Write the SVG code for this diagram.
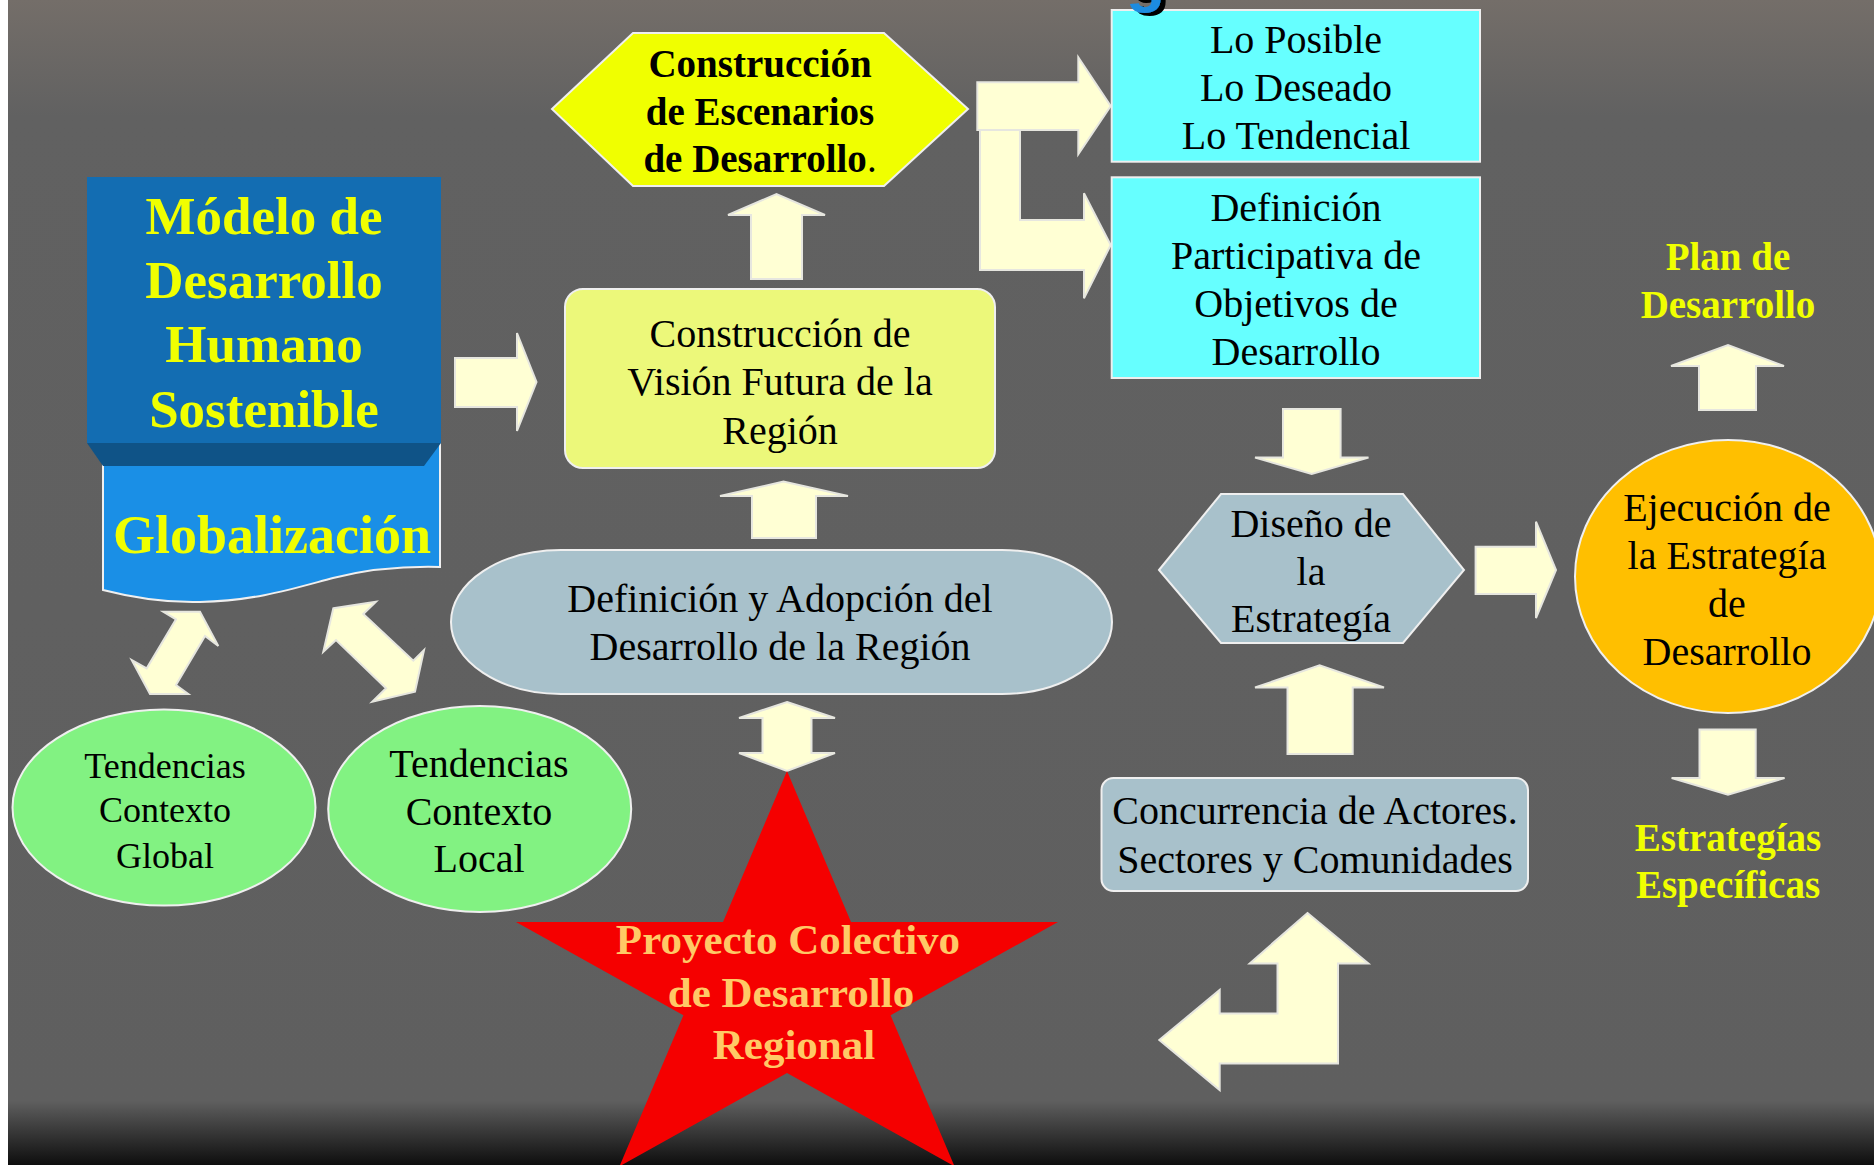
<svg xmlns="http://www.w3.org/2000/svg" width="1874" height="1165" viewBox="0 0 1874 1165">
<defs>
<linearGradient id="bg" x1="0" y1="0" x2="0" y2="1">
<stop offset="0" stop-color="#746e69"/>
<stop offset="0.1" stop-color="#616161"/>
<stop offset="0.945" stop-color="#5f5f5f"/>
<stop offset="1" stop-color="#0e0e0e"/>
</linearGradient>
<filter id="sh" x="-50%" y="-50%" width="200%" height="200%">
<feDropShadow dx="5" dy="3" stdDeviation="0" flood-color="#000" flood-opacity="1"/>
</filter>
<style>
.arr{fill:#ffffd4;stroke:#e6e6df;stroke-width:2;stroke-linejoin:miter}
.nd{stroke:#efefef;stroke-width:2}
.t{font-family:"Liberation Serif","Times New Roman",serif;font-size:40px;fill:#000;text-anchor:middle}
.b{font-weight:bold}
.y{fill:#f0ff00}
</style>
</defs>
<rect x="0" y="0" width="1874" height="1165" fill="#ffffff"/>
<rect x="8" y="0" width="1866" height="1165" fill="url(#bg)"/>

<g id="connectors">
<polygon class="arr" points="455,358 517,358 517,333 536.5,382 517,431 517,407 455,407"/>
<polygon class="arr" points="751,279 751,215 728,215 776.5,194 825,215 802,215 802,279"/>
<polygon class="arr" points="752,538 752,496 720,496 783.5,481.5 848,496 816,496 816,538"/>
<polygon class="arr" points="980,130 1020,130 1020,220 1084,220 1084,193.3 1110.7,245 1084,298.3 1084,270 980,270"/>
<polygon class="arr" points="977.3,82.3 1078.3,82.3 1078.3,57.3 1110.7,106 1078.3,154.3 1078.3,130 977.3,130"/>
<polygon class="arr" points="163.3,611.7 200,611.7 218.3,646 205,636 176,685 188.3,694 150,694 131.7,660 146.7,668.3 176,619.3"/>
<polygon class="arr" points="333.3,608.3 376,601.7 363.3,614 413.3,660.7 424,650 415,691.7 372.3,701.7 386,688.3 336,640 323.3,651.7"/>
<polygon class="arr" points="787,702 835,718 811.5,718 811.5,753 835,753 787,771 739,753 762.5,753 762.5,718 739,718"/>
<polygon class="arr" points="1283,409 1340.6,409 1340.6,457.6 1368.5,457.6 1311.7,474 1255,457.6 1283,457.6"/>
<polygon class="arr" points="1475.6,546.7 1536,546.7 1536,521.7 1556,570 1536,618 1536,594 1475.6,594"/>
<polygon class="arr" points="1287.5,754 1287.5,687.5 1255,687.5 1319.6,665.4 1384,687.5 1352.7,687.5 1352.7,754"/>
<polygon class="arr" points="1307.5,913 1368.4,963.4 1338,963.4 1338,1063.5 1219.7,1063.5 1219.7,1090 1159.3,1040 1219.7,990 1219.7,1013.5 1277.5,1013.5 1277.5,963.4 1249.7,963.4"/>
<polygon class="arr" points="1699,410 1699,366 1671,366 1728,345 1784,366 1756,366 1756,410"/>
<polygon class="arr" points="1699.5,729.5 1755.7,729.5 1755.7,778 1784.6,778 1728,794.6 1671.6,778 1699.5,778"/>
</g>

<g id="modelo">
<path class="nd" d="M103,443 L440,443 L440,567 C400,566 365,570 333,578 C295,588 255,601 200,602 C160,603 130,597 103,590 Z" fill="#1a8fe6"/>
<rect x="87" y="177" width="354" height="266" fill="#136db2"/>
<polygon points="87,443 441,443 424,466 103,466" fill="#0f5387"/>
<text class="t b y" style="font-size:53px" x="264" y="234">Módelo de</text>
<text class="t b y" style="font-size:53px" x="264" y="298">Desarrollo</text>
<text class="t b y" style="font-size:53px" x="264" y="362">Humano</text>
<text class="t b y" style="font-size:53px" x="264" y="427">Sostenible</text>
<text class="t b y" style="font-size:54px" x="272" y="553">Globalización</text>
</g>

<g id="vision">
<rect class="nd" x="565" y="289" width="430" height="179" rx="18" fill="#ecf87a"/>
<text class="t" x="780" y="347">Construcción de</text>
<text class="t" x="780" y="395">Visión Futura de la</text>
<text class="t" x="780" y="444">Región</text>
</g>

<g id="escenarios">
<polygon class="nd" points="552,109 633,33 884,33 968,109 884,186 633,186" fill="#f0ff00"/>
<text class="t b" style="font-size:39px" x="760" y="77">Construcción</text>
<text class="t b" style="font-size:39px" x="760" y="125">de Escenarios</text>
<text class="t b" style="font-size:39px" x="760" y="172">de Desarrollo<tspan font-weight="normal">.</tspan></text>
</g>

<g id="posible">
<rect class="nd" x="1111.7" y="10" width="368.3" height="151.7" fill="#66ffff"/>
<text class="t" x="1296" y="53">Lo Posible</text>
<text class="t" x="1296" y="101">Lo Deseado</text>
<text class="t" x="1296" y="149">Lo Tendencial</text>
</g>

<g id="titulo-fragmento">
<text x="1126" y="0" font-family="Liberation Sans, Arial, sans-serif" font-weight="bold" font-size="64" fill="#1e8ce0" filter="url(#sh)">g</text>
</g>

<g id="objetivos">
<rect class="nd" x="1111.7" y="177.3" width="368.3" height="200.7" fill="#66ffff"/>
<text class="t" x="1296" y="221">Definición</text>
<text class="t" x="1296" y="269">Participativa de</text>
<text class="t" x="1296" y="317">Objetivos de</text>
<text class="t" x="1296" y="365">Desarrollo</text>
</g>

<g id="plan">
<text class="t b y" style="font-size:39px" x="1728" y="270">Plan de</text>
<text class="t b y" style="font-size:39px" x="1728" y="318">Desarrollo</text>
</g>

<g id="definicion">
<rect class="nd" x="451" y="550" width="661" height="144" rx="110" ry="72" fill="#a8c1cb"/>
<text class="t" x="780" y="612">Definición y Adopción del</text>
<text class="t" x="780" y="660">Desarrollo de la Región</text>
</g>

<g id="diseno">
<polygon class="nd" points="1159,570 1221,494 1403,494 1464,570 1403,643 1221,643" fill="#a8c1cb"/>
<text class="t" x="1311" y="537">Diseño de</text>
<text class="t" x="1311" y="585">la</text>
<text class="t" x="1311" y="632">Estrategía</text>
</g>

<g id="ejecucion">
<ellipse class="nd" cx="1728" cy="576.5" rx="153" ry="136.5" fill="#ffbf00"/>
<text class="t" x="1727" y="521">Ejecución de</text>
<text class="t" x="1727" y="569">la Estrategía</text>
<text class="t" x="1727" y="617">de</text>
<text class="t" x="1727" y="665">Desarrollo</text>
</g>

<g id="especificas">
<text class="t b y" style="font-size:39px" x="1728" y="851">Estrategías</text>
<text class="t b y" style="font-size:39px" x="1728" y="898">Específicas</text>
</g>

<g id="global">
<ellipse class="nd" cx="164" cy="807.6" rx="151.5" ry="98" fill="#82f282"/>
<text class="t" style="font-size:36px" x="165" y="778">Tendencias</text>
<text class="t" style="font-size:36px" x="165" y="822">Contexto</text>
<text class="t" style="font-size:36px" x="165" y="868">Global</text>
</g>

<g id="local">
<ellipse class="nd" cx="479.7" cy="809" rx="151.5" ry="103" fill="#82f282"/>
<text class="t" x="479" y="777">Tendencias</text>
<text class="t" x="479" y="825">Contexto</text>
<text class="t" x="479" y="872">Local</text>
</g>

<g id="concurrencia">
<rect class="nd" x="1101.5" y="778" width="426.5" height="113" rx="12" fill="#a8c1cb"/>
<text class="t" x="1315" y="824">Concurrencia de Actores.</text>
<text class="t" x="1315" y="873">Sectores y Comunidades</text>
</g>

<g id="proyecto">
<polygon points="787,771 851,922 1058,922 890.6,1015.3 954.5,1166.3 787,1073 619.5,1166.3 683.4,1015.3 516,922 723,922" fill="#f50000"/>
<text class="t b" style="font-size:43px;fill:#ffc966" x="788" y="954">Proyecto Colectivo</text>
<text class="t b" style="font-size:43px;fill:#ffc966" x="791" y="1007">de Desarrollo</text>
<text class="t b" style="font-size:43px;fill:#ffc966" x="794" y="1059">Regional</text>
</g>
</svg>
